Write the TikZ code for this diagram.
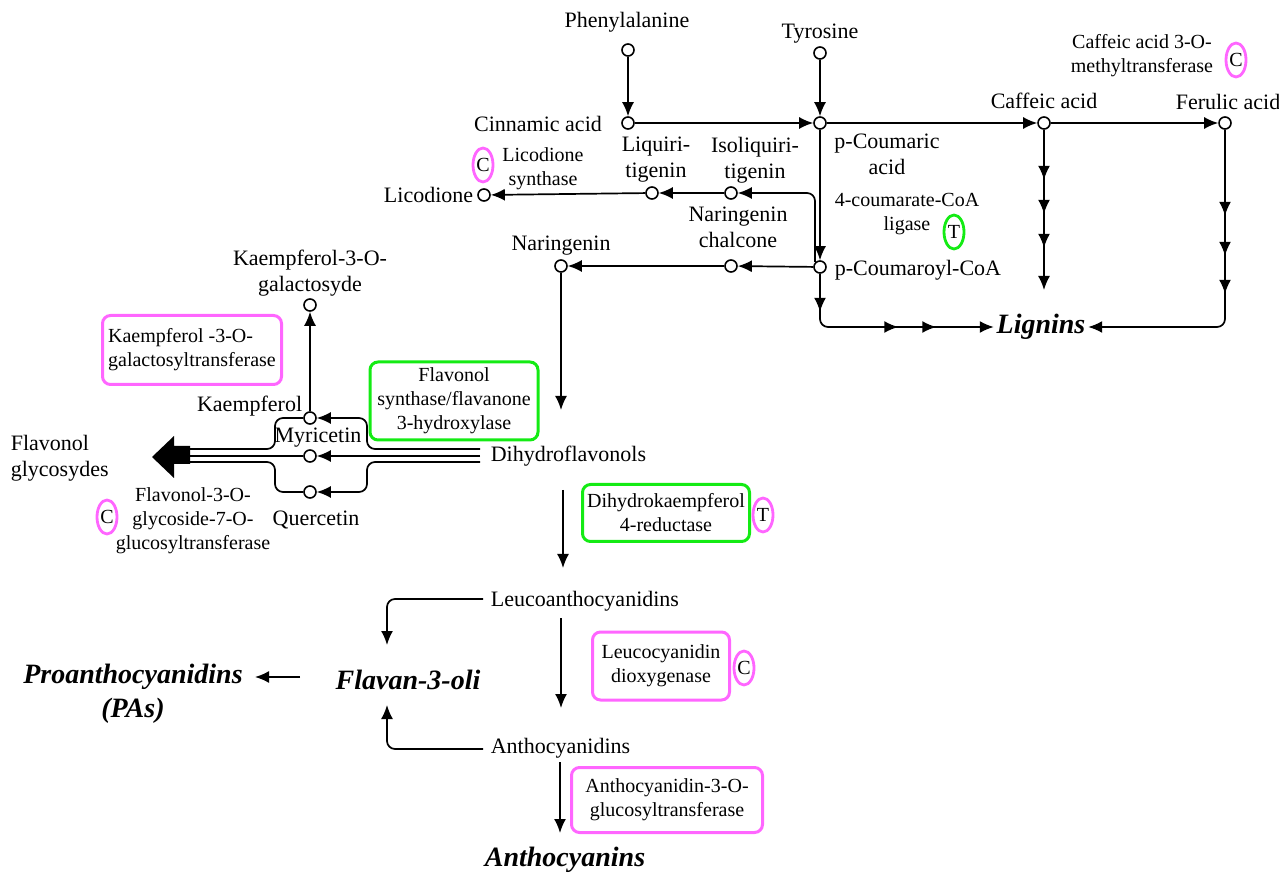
\documentclass[tikz,border=0pt]{standalone}
\usepackage{fontspec}
\setmainfont{Liberation Serif}
\usetikzlibrary{arrows.meta,shapes.geometric,decorations.markings}
\definecolor{enzpink}{RGB}{255,102,255}
\definecolor{enzgreen}{RGB}{20,235,20}

\begin{document}
\begin{tikzpicture}[x=0.5pt,y=-0.5pt,>={Latex[length=7pt,width=6pt]},line width=0.85pt,
  cpd/.style={circle,draw,fill=white,inner sep=0pt,minimum size=6pt,line width=0.8pt},
  lbl/.style={font=\fontsize{11}{13}\selectfont,align=center,inner sep=1pt},
  enz/.style={font=\fontsize{10}{12}\selectfont,align=center,inner sep=1pt},
  endprod/.style={font=\fontsize{14}{17}\selectfont\bfseries\itshape,align=center,inner sep=1pt},
  pinkbox/.style={enz,draw=enzpink,line width=1.5pt,rounded corners=4pt},
  greenbox/.style={enz,draw=enzgreen,line width=1.5pt,rounded corners=4pt},
  tagpink/.style={ellipse,draw=enzpink,line width=1.4pt,minimum width=10pt,minimum height=17pt,inner sep=0pt,font=\fontsize{10}{12}\selectfont},
  taggreen/.style={tagpink,draw=enzgreen},
  tipat/.style={postaction={decorate,decoration={markings,mark=at position #1 with {\arrow{>}}}}}]

  \useasboundingbox (0,0) rectangle (1279,876);

  % compounds (small circles)
  \node[cpd] (phe)  at (628,50)  {};
  \node[cpd] (cin)  at (628,123) {};
  \node[cpd] (tyr)  at (820,53)  {};
  \node[cpd] (pcou) at (820,123) {};
  \node[cpd] (caf)  at (1044,123) {};
  \node[cpd] (fer)  at (1225,123) {};
  \node[cpd] (pcoa) at (820,267) {};
  \node[cpd] (chal) at (731,266) {};
  \node[cpd] (nar)  at (561,266) {};
  \node[cpd] (isol) at (731,193) {};
  \node[cpd] (liq)  at (652,193) {};
  \node[cpd] (lico) at (484,195) {};
  \node[cpd] (kgal) at (310,305) {};
  \node[cpd] (kae)  at (310,418) {};
  \node[cpd] (myr)  at (310,456) {};
  \node[cpd] (que)  at (310,492) {};

  % compound labels
  \node[lbl] (phel)  at (627,22)  {Phenylalanine};
  \node[lbl] (tyrl)  at (820,34)  {Tyrosine};
  \node[lbl] (cinl)  at (538,124) {Cinnamic acid};
  \node[lbl] (pcoul) at (887,154) {p-Coumaric\\acid};
  \node[lbl] (cafl)  at (1044,101) {Caffeic acid};
  \node[lbl] (ferl)  at (1228,102) {Ferulic acid};
  \node[lbl] (liql)  at (656,160) {Liquiri-\\tigenin};
  \node[lbl] (isoll) at (755,160) {Isoliquiri-\\tigenin};
  \node[lbl] (chall) at (738,227) {Naringenin\\chalcone};
  \node[lbl,anchor=east] (licol) at (476,195) {Licodione};
  \node[lbl,anchor=west] (pcoal) at (832,270) {p-Coumaroyl-CoA};
  \node[lbl] (narl)  at (561,246) {Naringenin};
  \node[lbl] (kgall) at (310,273) {Kaempferol-3-O-\\galactosyde};
  \node[lbl,anchor=east] (kael) at (305,406) {Kaempferol};
  \node[lbl] (myrl)  at (318,438) {Myricetin};
  \node[lbl] (quel)  at (316,520) {Quercetin};
  \node[lbl,anchor=west,align=left] (gly) at (8,458) {Flavonol\\glycosydes};
  \node[lbl,anchor=west] (dhf)  at (488,456) {Dihydroflavonols};
  \node[lbl,anchor=west] (leu)  at (488,601) {Leucoanthocyanidins};
  \node[lbl,anchor=west] (anth) at (488,748) {Anthocyanidins};

  % end products
  \node[endprod] (lig)  at (1041,327) {Lignins};
  \node[endprod] (flav) at (408,680) {Flavan-3-oli};
  \node[endprod] (proa) at (133,694) {Proanthocyanidins\\(PAs)};
  \node[endprod] (antc) at (565,860) {Anthocyanins};

  % enzymes
  \node[enz] (comt) at (1142,56) {Caffeic acid 3-O-\\methyltransferase};
  \node[tagpink] (comtc) at (1236,60) {C};
  \node[enz] (lics) at (543,169) {Licodione\\synthase};
  \node[tagpink] (licsc) at (483,165) {C};
  \node[enz] (fcl) at (907,214) {4-coumarate-CoA\\ligase};
  \node[taggreen] (fclt) at (954,232) {T};
  \node[pinkbox,align=left,minimum width=89.5pt,minimum height=34.5pt] (kgt) at (192,350) {Kaempferol -3-O-\\galactosyltransferase};
  \node[greenbox,minimum width=84pt,minimum height=39pt] (fls) at (454,401) {Flavonol\\synthase/flavanone\\3-hydroxylase};
  \node[enz] (fgt) at (193,521) {Flavonol-3-O-\\glycoside-7-O-\\glucosyltransferase};
  \node[tagpink] (fgtc) at (107,517) {C};
  \node[greenbox,minimum width=83.5pt,minimum height=28.5pt] (dfr) at (666,513) {Dihydrokaempferol\\4-reductase};
  \node[tagpink] (dfrt) at (763,515) {T};
  \node[pinkbox,minimum width=68.5pt,minimum height=34pt] (ldox) at (661,666) {Leucocyanidin\\dioxygenase};
  \node[tagpink] (ldoxc) at (744,668) {C};
  \node[pinkbox,minimum width=95.5pt,minimum height=32.5pt] (agt) at (667,800) {Anthocyanidin-3-O-\\glucosyltransferase};

  % free ends of connectors
  \coordinate (cafend) at (1044,290);
  \coordinate (isobr)  at (815,262);
  \coordinate (narend) at (561,410);
  \coordinate (dhfa) at (480,449);
  \coordinate (dhfb) at (480,456);
  \coordinate (dhfc) at (480,462);
  \coordinate (glya) at (190,449);
  \coordinate (glyb) at (190,456);
  \coordinate (glyc) at (190,462);
  \coordinate (dhfout) at (563,490);
  \coordinate (leuin)  at (563,568);
  \coordinate (leuout) at (483,599);
  \coordinate (leudown) at (561,618);
  \coordinate (anthin) at (561,708);
  \coordinate (anthout) at (483,749);
  \coordinate (anthdown) at (560,762);
  \coordinate (antcin) at (560,833);
  \coordinate (flavtop) at (387,645);
  \coordinate (flavbot) at (387,705);
  \coordinate (flavout) at (300,677);
  \coordinate (proain) at (255,677);

  % phenylpropanoid part
  \draw[->] (phe) -- (cin);
  \draw[->] (cin) -- (pcou);
  \draw[->] (tyr) -- (pcou);
  \draw[->] (pcou) -- (caf);
  \draw[->] (caf) -- (fer);
  \draw[->] (pcou) -- (pcoa);
  \draw[->,tipat=25pt,tipat=42pt,tipat=59pt] (caf) -- (cafend);
  \draw[->,rounded corners=4pt,tipat=43pt,tipat=63pt,tipat=82pt] (fer) |- (lig.east);
  \draw[->,rounded corners=4pt,tipat=19pt,tipat=64pt,tipat=83pt] (pcoa) |- (lig.west);

  % chalcones and flavanones
  \draw[->] (pcoa) -- (chal);
  \draw[->] (chal) -- (nar);
  \draw[->,rounded corners=4pt] (isobr) |- (isol);
  \draw[->] (isol) -- (liq);
  \draw[->] (liq) -- (lico);
  \draw[->] (nar) -- (narend);

  % flavonols
  \draw[->] (kae) -- (kgal);
  \draw[->,rounded corners=4pt] (dhfa) -- (367,449) |- (kae);
  \draw[->] (dhfb) -- (myr);
  \draw[->,rounded corners=4pt] (dhfc) -- (367,462) |- (que);
  \draw[rounded corners=4pt] (kae) -- (275,418) |- (glya);
  \draw (myr) -- (glyb);
  \draw[rounded corners=4pt] (que) -- (275,492) |- (glyc);
  \fill (190,446) -- (174,446) -- (174,436) -- (152,457) -- (174,478) -- (174,464) -- (190,464) -- cycle;

  % anthocyanins and proanthocyanidins
  \draw[->] (dhfout) -- (leuin);
  \draw[->] (leudown) -- (anthin);
  \draw[->] (anthdown) -- (antcin);
  \draw[->,rounded corners=4pt] (leuout) -| (flavtop);
  \draw[->,rounded corners=4pt] (anthout) -| (flavbot);
  \draw[->] (flavout) -- (proain);

\end{tikzpicture}
\end{document}
